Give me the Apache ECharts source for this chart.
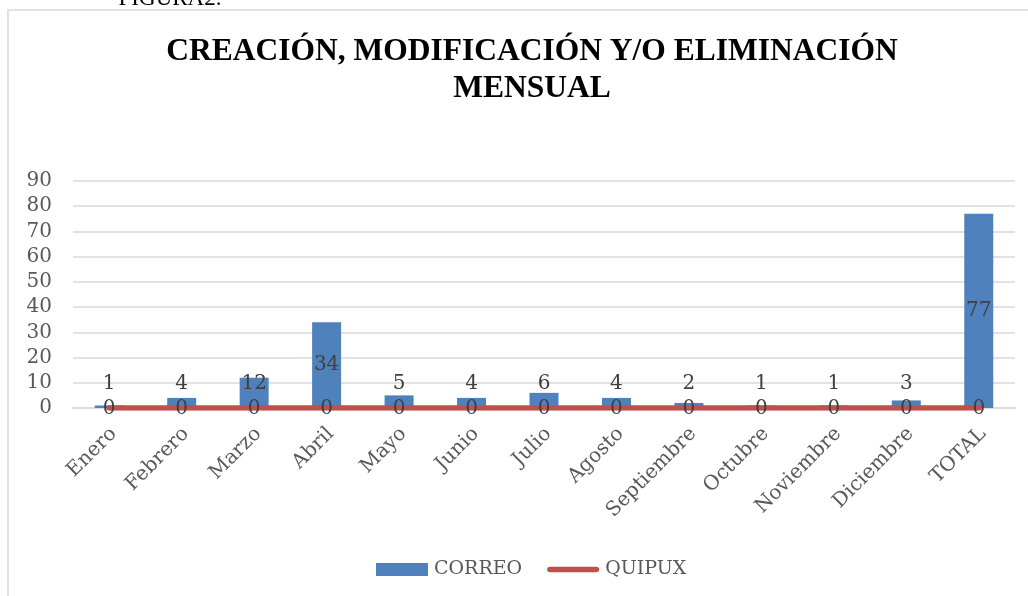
<!DOCTYPE html>
<html>
<head>
<meta charset="utf-8">
<script src="https://cdn.jsdelivr.net/npm/echarts@6/dist/echarts.min.js"></script>
<style>html,body{margin:0;padding:0;background:#fff}#c{width:1028px;height:596px}</style>
</head>
<body>
<div id="c"></div>
<script>
var categories = ['Enero','Febrero','Marzo','Abril','Mayo','Junio','Julio','Agosto','Septiembre','Octubre','Noviembre','Diciembre','TOTAL'];
var correo = [1,4,12,34,5,4,6,4,2,1,1,3,77];
var quipux = [0,0,0,0,0,0,0,0,0,0,0,0,0];
var yTicks = [0,10,20,30,40,50,60,70,80,90];

var serif = 'DejaVu Serif';
var chart = echarts.init(document.getElementById('c'));
var correoData = correo.map(function(v){
  return v >= 20 ? {value: v, label: {position: 'inside'}} : {value: v, label: {position: 'insideBottom', distance: 14}};
});
chart.setOption({
  animation: false,
  graphic: [
    {type: 'rect', shape: {x: 8, y: 10, width: 1100, height: 700}, style: {fill: 'none', stroke: '#d9d9d9', lineWidth: 1.5}, silent: true},
    {type: 'text', x: 170, y: 10, style: {text: 'FIGURA2.', font: '23px "Liberation Serif"', fill: '#000', textAlign: 'center', textVerticalAlign: 'bottom'}}
  ],
  title: {
    text: 'CREACIÓN, MODIFICACIÓN Y/O ELIMINACIÓN\nMENSUAL',
    left: 527, top: 28, textAlign: 'center',
    textStyle: {fontFamily: 'Liberation Serif', fontWeight: 'bold', fontSize: 31.5, lineHeight: 37, color: '#000'}
  },
  legend: {
    top: 555, left: 371,
    itemWidth: 52, itemHeight: 13, itemGap: 25,
    textStyle: {fontFamily: serif, fontSize: 19, color: '#595959', padding: [0,0,0,1]},
    data: [
      {name: 'CORREO', icon: 'rect'},
      {name: 'QUIPUX', icon: 'path://M3,0 H53 A3,3 0 0 1 53,6 H3 A3,3 0 0 1 3,0 Z'}
    ]
  },
  grid: {left: 73, right: 13, top: 181, bottom: 188},
  xAxis: {
    type: 'category', data: categories,
    axisLine: {lineStyle: {color: '#d9d9d9', width: 1.5}},
    axisTick: {show: false},
    axisLabel: {rotate: 45, interval: 0, margin: 27, padding: [0,-6,0,0], fontFamily: serif, fontSize: 20, color: '#595959'}
  },
  yAxis: {
    type: 'value', min: 0, max: 90, interval: 10,
    axisLine: {show: false}, axisTick: {show: false},
    splitLine: {lineStyle: {color: '#d9d9d9', width: 1.5}},
    axisLabel: {margin: 21, fontFamily: serif, fontSize: 20, color: '#595959',
      formatter: function(v){ return yTicks.indexOf(v) >= 0 ? String(v) : ''; }}
  },
  series: [
    {name: 'CORREO', type: 'bar', data: correoData, barWidth: 29,
      itemStyle: {color: '#4F81BD'},
      label: {show: true, fontFamily: serif, fontSize: 20, lineHeight: 20, color: '#404040'}},
    {name: 'QUIPUX', type: 'line', data: quipux, symbol: 'circle', symbolSize: 1, showSymbol: true, z: 5,
      lineStyle: {color: '#C0504D', width: 5.5, cap: 'round'}, itemStyle: {color: '#C0504D'},
      label: {show: true, position: 'inside', offset: [0, 1], fontFamily: serif, fontSize: 20, color: '#404040'}}
  ]
});
</script>
</body>
</html>
